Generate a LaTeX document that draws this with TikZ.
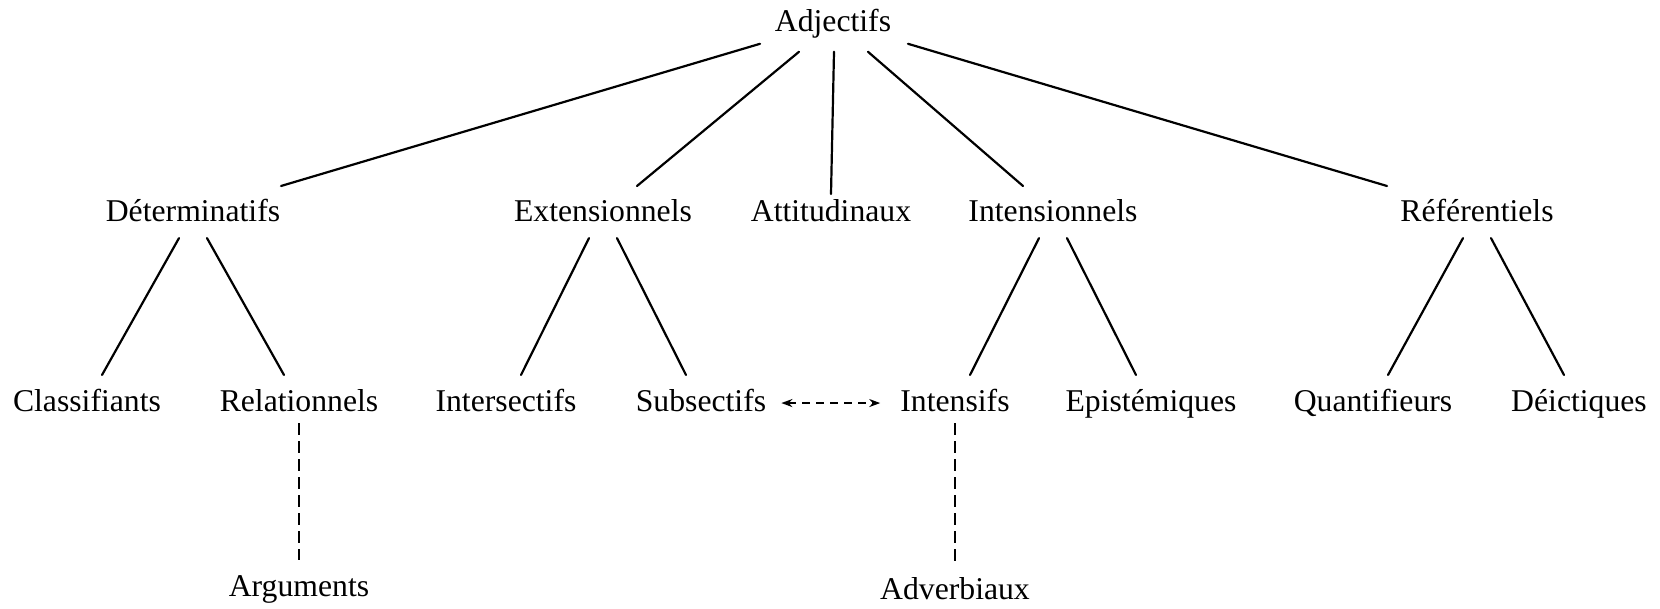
\documentclass[tikz,border=0pt]{standalone}
\usepackage{fontspec}
\setmainfont{Liberation Serif}
\usetikzlibrary{arrows.meta}
\tikzset{
  adjlabel/.style={
    font=\fontsize{31.7}{38}\selectfont,
    anchor=base,
    inner xsep=2pt,
    inner ysep=12pt,
    text height=23.8pt,
    text depth=7.9pt
  },
  treeline/.style={
    draw=black,
    line width=2.2pt,
    line cap=round
  },
  linkline/.style={
    draw=black,
    line width=2pt,
    dash pattern=on 12pt off 6pt
  },
  linkarrow/.style={
    draw=black,
    line width=2pt,
    dash pattern=on 8pt off 6pt,
    {Stealth[length=11pt,width=8pt]}-{Stealth[length=11pt,width=8pt]}
  }
}
\begin{document}
\begin{tikzpicture}[x=1pt,y=-1pt]
  \useasboundingbox (0,0) rectangle (1660,609);
  \node[adjlabel] (adj) at (833,31.7) {Adjectifs};
  % second level
  \node[adjlabel] (det) at (193,222) {Déterminatifs};
  \node[adjlabel] (ext) at (603,222) {Extensionnels};
  \node[adjlabel] (att) at (831,222) {Attitudinaux};
  \node[adjlabel] (intn) at (1053,222) {Intensionnels};
  \node[adjlabel] (ref) at (1477,222) {Référentiels};
  % third level
  \node[adjlabel] (class) at (87,411) {Classifiants};
  \node[adjlabel] (rel) at (299,411) {Relationnels};
  \node[adjlabel] (inters) at (506,411) {Intersectifs};
  \node[adjlabel] (subs) at (701,411) {Subsectifs};
  \node[adjlabel] (intf) at (955,411) {Intensifs};
  \node[adjlabel] (epist) at (1151,411) {Epistémiques};
  \node[adjlabel] (quant) at (1373,411) {Quantifieurs};
  \node[adjlabel] (deict) at (1579,411) {Déictiques};
  % fourth level
  \node[adjlabel] (args) at (299,596) {Arguments};
  \node[adjlabel] (advb) at (955,599) {Adverbiaux};
  % edges
  \draw[treeline] ([xshift=-73pt,yshift=8pt]adj.south) -- ([xshift=88pt]det.north);
  \draw[treeline] ([xshift=-34pt]adj.south) -- ([xshift=34pt]ext.north);
  \draw[treeline] ([xshift=1pt]adj.south) -- ([yshift=-8pt]att.north);
  \draw[treeline] ([xshift=35pt]adj.south) -- ([xshift=-30pt]intn.north);
  \draw[treeline] ([xshift=75pt,yshift=8pt]adj.south) -- ([xshift=-90pt]ref.north);
  \foreach \parent/\lkid/\rkid in {det/class/rel,ext/inters/subs,intn/intf/epist,ref/quant/deict}{
    \draw[treeline] ([xshift=-14pt,yshift=4pt]\parent.south) -- ([xshift=15pt]\lkid.north);
    \draw[treeline] ([xshift=14pt,yshift=4pt]\parent.south) -- ([xshift=-15pt]\rkid.north);
  }
  \draw[linkline] ([yshift=8pt]rel.south) -- (args.north);
  \draw[linkline] ([yshift=8pt]intf.south) -- (advb.north);
  \draw[linkarrow] ([xshift=13pt]subs.east) -- ([xshift=-18pt]intf.west);
\end{tikzpicture}
\end{document}
